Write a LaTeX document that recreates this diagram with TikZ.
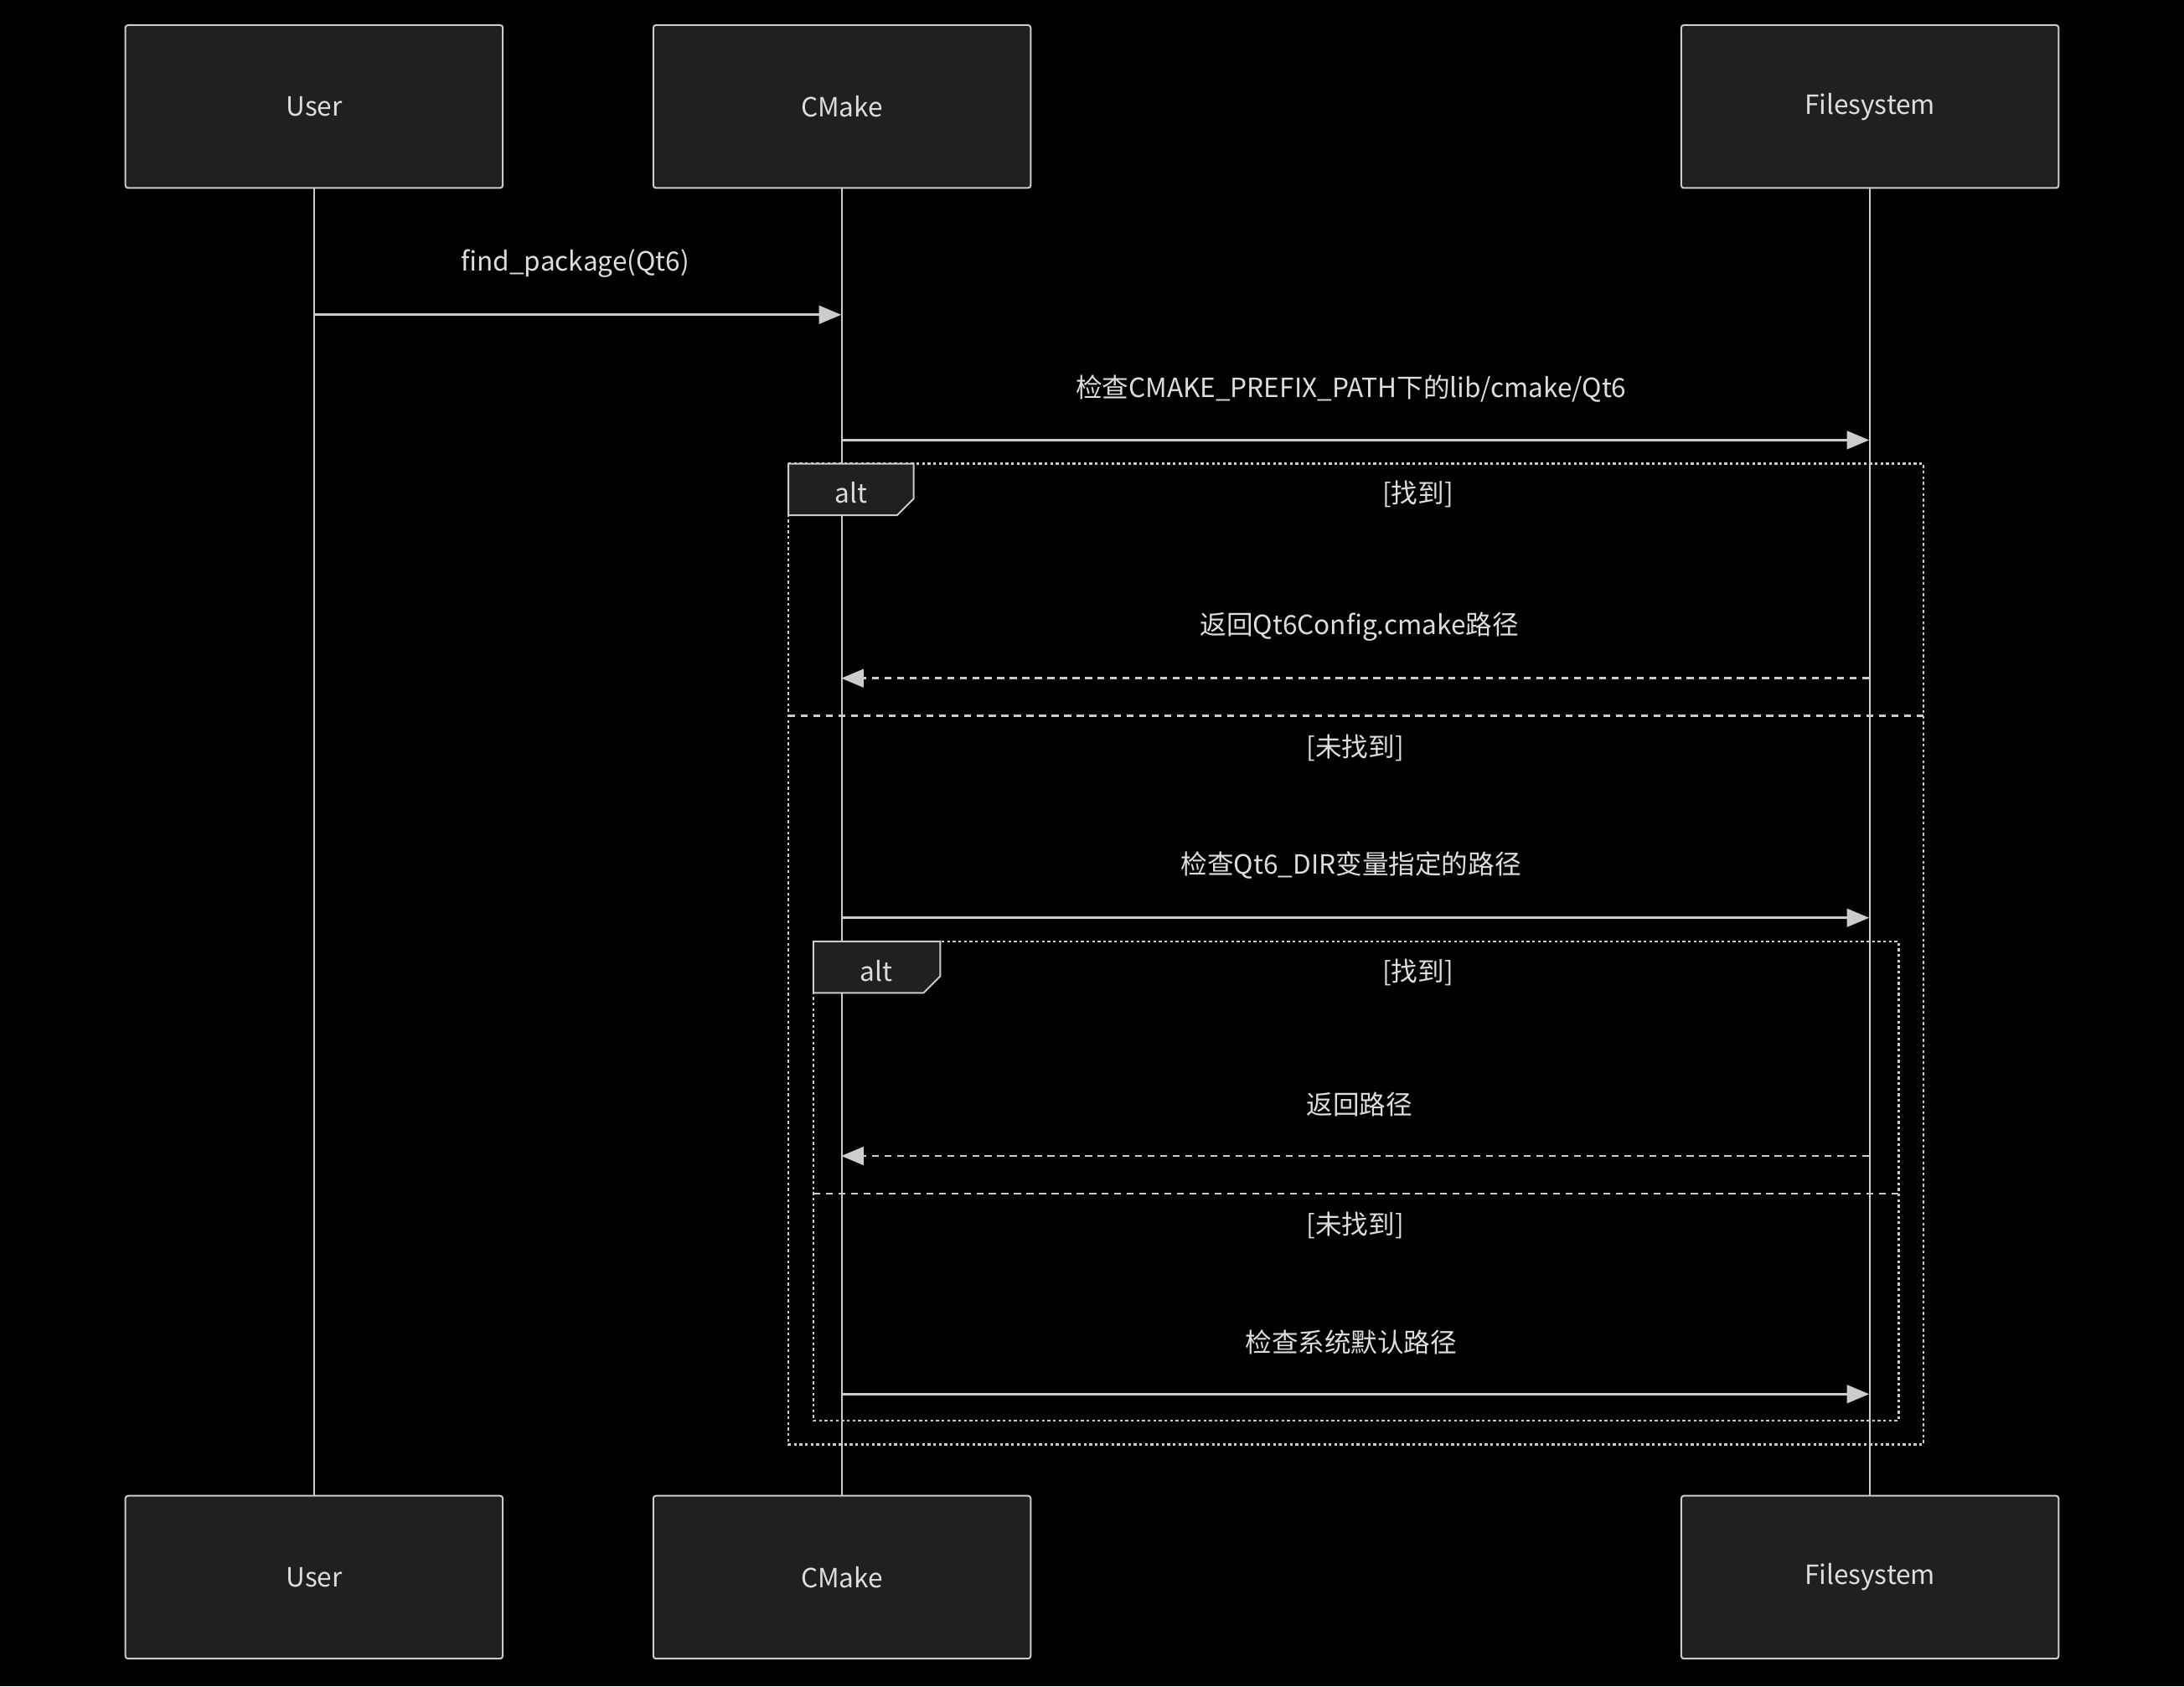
\documentclass[tikz,border=0pt]{standalone}
\usepackage{fontspec}
\setmainfont{Noto Sans CJK SC}
\usetikzlibrary{arrows.meta}
\definecolor{ln}{HTML}{CCCCCC}
\definecolor{tx}{HTML}{DDDDDD}
\definecolor{bx}{HTML}{1F2020}
\begin{document}
\begin{tikzpicture}[x=1pt,y=-1pt,
  actor/.style={draw=ln,fill=bx,rounded corners=2pt,line width=1.2pt,minimum width=271pt,minimum height=117pt,text=tx,font=\fontsize{19}{22}\selectfont},
  life/.style={draw=ln,line width=1.6pt},
  msg/.style={draw=ln,line width=1.6pt,-{Triangle[length=16pt,width=13pt]}},
  rmsg/.style={msg,dash pattern=on 5pt off 4pt},
  lbl/.style={text=tx,font=\fontsize{19}{22}\selectfont},
  frame/.style={draw=ln,line width=1.6pt,dash pattern=on 2pt off 2pt},
  sep/.style={draw=ln,line width=1.6pt,dash pattern=on 5pt off 4pt}]
\fill[black] (0,0) rectangle (1568,1211);
\useasboundingbox (0,0) rectangle (1568,1211);
\node[actor] (u1) at (225.5,76.5) {User};
\node[actor] (c1) at (604.5,76.5) {CMake};
\node[actor] (f1) at (1342.5,76.5) {Filesystem};
\node[actor] (u2) at (225.5,1132.5) {User};
\node[actor] (c2) at (604.5,1132.5) {CMake};
\node[actor] (f2) at (1342.5,1132.5) {Filesystem};
\draw[life] (u1.south) -- (u2.north);
\draw[life] (c1.south) -- (c2.north);
\draw[life] (f1.south) -- (f2.north);
\coordinate (u226) at (225,226); \coordinate (c226) at (604,226);
\node[lbl] at (413,189) {find\_package(Qt6)};
\draw[msg] (u226) -- (c226);
\coordinate (c316) at (604,316); \coordinate (f316) at (1342,316);
\node[lbl] at (970,279) {检查CMAKE\_PREFIX\_PATH下的lib/cmake/Qt6};
\draw[msg] (c316) -- (f316);
% outer alt
\draw[frame] (566,333) rectangle (1381,1037);
\draw[draw=ln,fill=bx,line width=1.2pt] (566,333) -- (656,333) -- (656,358) -- (644,370) -- (566,370) -- cycle;
\node[lbl] at (611,354) {alt};
\node[lbl] at (1018,355) {[找到]};
\node[lbl] at (976,450) {返回Qt6Config.cmake路径};
\coordinate (f487) at (1342,487); \coordinate (c487) at (604,487);
\draw[rmsg] (f487) -- (c487);
\draw[sep] (566,514) -- (1381,514);
\node[lbl] at (973,537) {[未找到]};
\node[lbl] at (970,621) {检查Qt6\_DIR变量指定的路径};
\coordinate (c659) at (604,659); \coordinate (f659) at (1342,659);
\draw[msg] (c659) -- (f659);
% inner alt
\draw[frame] (584,676) rectangle (1363,1020);
\draw[draw=ln,fill=bx,line width=1.2pt] (584,676) -- (675,676) -- (675,701) -- (663,713) -- (584,713) -- cycle;
\node[lbl] at (629,697) {alt};
\node[lbl] at (1018,698) {[找到]};
\node[lbl] at (976,793) {返回路径};
\coordinate (f830) at (1342,830); \coordinate (c830) at (604,830);
\draw[rmsg] (f830) -- (c830);
\draw[sep] (584,857) -- (1363,857);
\node[lbl] at (973,880) {[未找到]};
\node[lbl] at (970,964) {检查系统默认路径};
\coordinate (c1001) at (604,1001); \coordinate (f1001) at (1342,1001);
\draw[msg] (c1001) -- (f1001);
\end{tikzpicture}
\end{document}
